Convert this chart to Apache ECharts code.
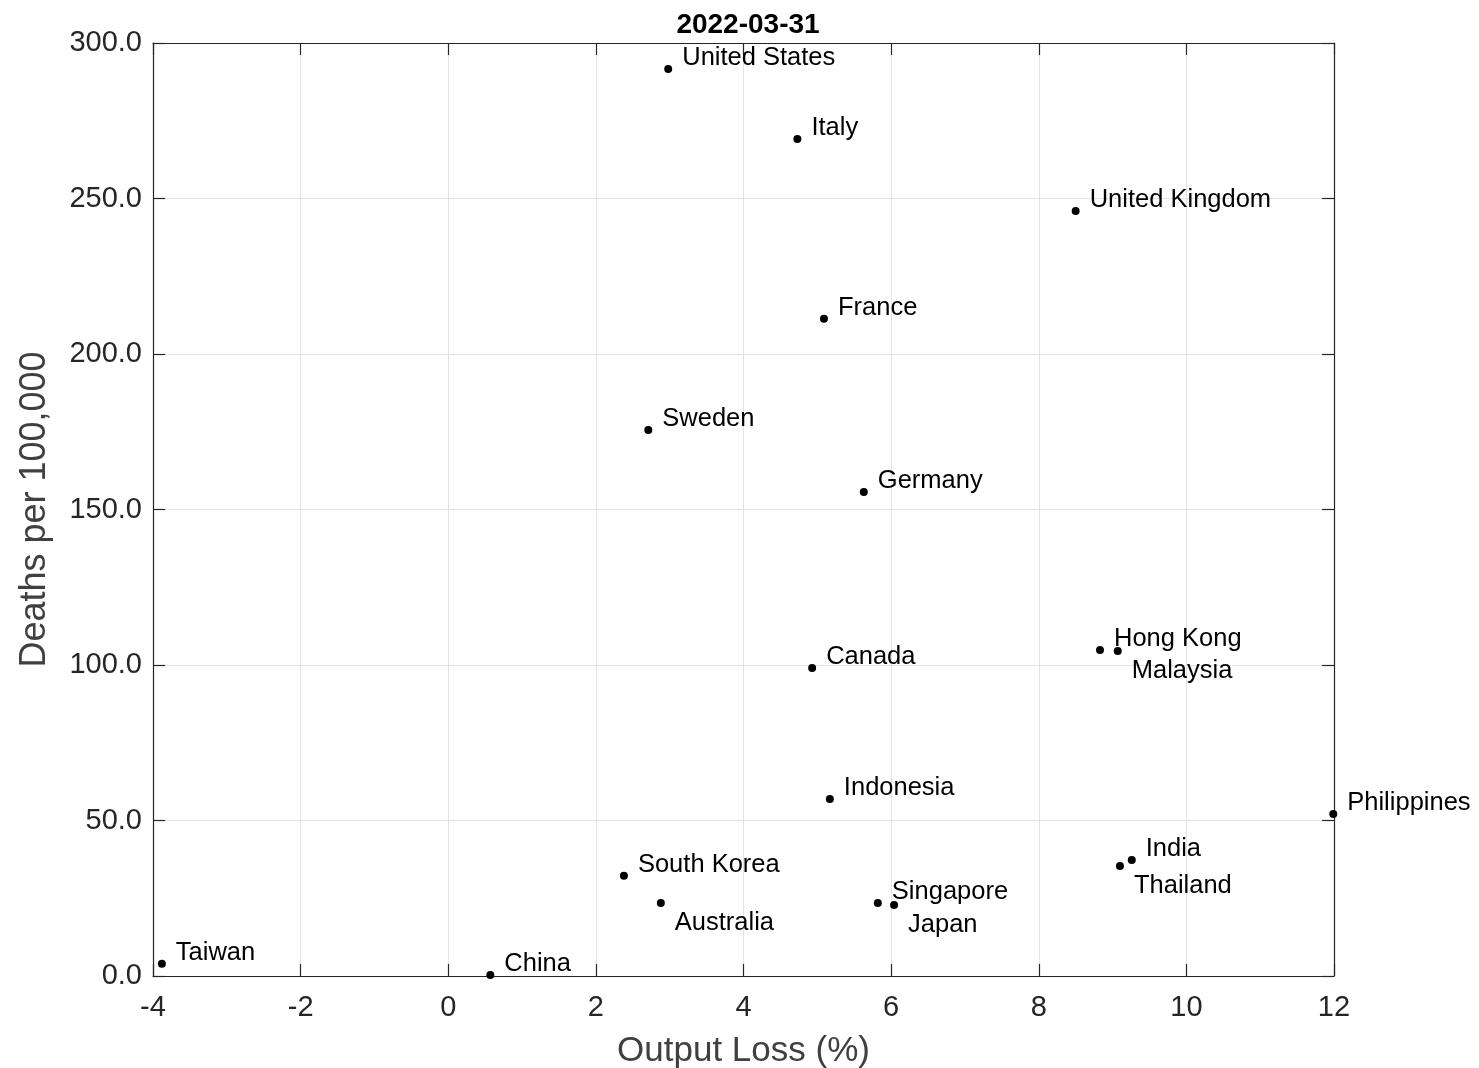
<!DOCTYPE html>
<html>
<head>
<meta charset="utf-8">
<script src="https://cdn.jsdelivr.net/npm/echarts@6/dist/echarts.min.js"></script>
<style>html,body{margin:0;padding:0;background:#fff}#c{width:1479px;height:1068px}</style>
</head>
<body>
<div id="c"></div>
<script>
const countries = ['United States','Italy','United Kingdom','France','Sweden','Germany','Canada','Hong Kong','Malaysia','Indonesia','Philippines','India','Thailand','South Korea','Australia','Singapore','Japan','Taiwan','China'];
const outputLoss = [2.98, 4.73, 8.50, 5.09, 2.71, 5.63, 4.93, 8.83, 9.07, 5.17, 11.99, 9.26, 9.10, 2.38, 2.88, 5.82, 6.04, -3.88, 0.57];
const deaths = [291.6, 269.1, 246.0, 211.3, 175.6, 155.6, 99.0, 104.8, 104.5, 56.9, 52.1, 37.3, 35.4, 32.2, 23.5, 23.5, 22.8, 3.9, 0.3];
const labelsBelow = ['Malaysia','Thailand','Australia','Japan'];
const xTicks = {min: -4, max: 12, interval: 2};
const yTicks = {min: 0, max: 300, interval: 50};
const titleText = '2022-03-31';
const xName = 'Output Loss (%)';
const yName = 'Deaths per 100,000';

const FONT = '"Liberation Sans", Arial, Helvetica, sans-serif';
const axisColor = '#262626';
const chart = echarts.init(document.getElementById('c'), null, {renderer: 'canvas'});

const data = countries.map((n, i) => ({name: n, value: [outputLoss[i], deaths[i]]}));

const lineStyle = {color: axisColor, width: 1.2};
const baseX = {
  type: 'value', min: xTicks.min, max: xTicks.max, interval: xTicks.interval,
  axisLine: {show: true, onZero: false, lineStyle},
  axisTick: {show: true, inside: true, length: 12, lineStyle}
};
const baseY = {
  type: 'value', min: yTicks.min, max: yTicks.max, interval: yTicks.interval,
  axisLine: {show: true, onZero: false, lineStyle},
  axisTick: {show: true, inside: true, length: 12, lineStyle}
};

chart.setOption({
  backgroundColor: '#fff',
  animation: false,
  title: {
    text: titleText, left: 743, top: 6, textAlign: 'center',
    textStyle: {fontFamily: FONT, fontSize: 28, fontWeight: 'bold', color: '#000'}
  },
  grid: {left: 153, right: 145, top: 43, bottom: 92, containLabel: false, outerBoundsMode: 'none'},
  xAxis: [
    Object.assign({}, baseX, {
      position: 'bottom',
      name: xName, nameLocation: 'middle', nameGap: 58,
      nameTextStyle: {fontFamily: FONT, fontSize: 35, color: '#404040'},
      axisLabel: {fontFamily: FONT, fontSize: 29, color: axisColor, margin: 17},
      splitLine: {show: true, lineStyle: {color: '#e3e3e3', width: 1}}
    }),
    Object.assign({}, baseX, {
      position: 'top', axisLabel: {show: false}, splitLine: {show: false}
    })
  ],
  yAxis: [
    Object.assign({}, baseY, {
      position: 'left',
      name: yName, nameLocation: 'middle', nameGap: 100, nameRotate: 90,
      nameTextStyle: {fontFamily: FONT, fontSize: 36, color: '#404040'},
      axisLabel: {fontFamily: FONT, fontSize: 29, color: axisColor, margin: 11,
        formatter: v => v.toFixed(1)},
      splitLine: {show: true, lineStyle: {color: '#e3e3e3', width: 1}}
    }),
    Object.assign({}, baseY, {
      position: 'right', axisLabel: {show: false}, splitLine: {show: false}
    })
  ],
  series: [{
    type: 'scatter',
    xAxisIndex: 0, yAxisIndex: 0,
    symbol: 'circle', symbolSize: 8,
    itemStyle: {color: '#000', opacity: 1},
    clip: false,
    label: {
      show: true, position: 'right', distance: 10,
      formatter: p => p.name,
      fontFamily: FONT, fontSize: 25.5, color: '#000'
    },
    labelLayout: function (params) {
      const n = countries[params.dataIndex];
      return {dx: 0, dy: labelsBelow.includes(n) ? 20 : -11, hideOverlap: false};
    },
    data
  }]
});
</script>
</body>
</html>
